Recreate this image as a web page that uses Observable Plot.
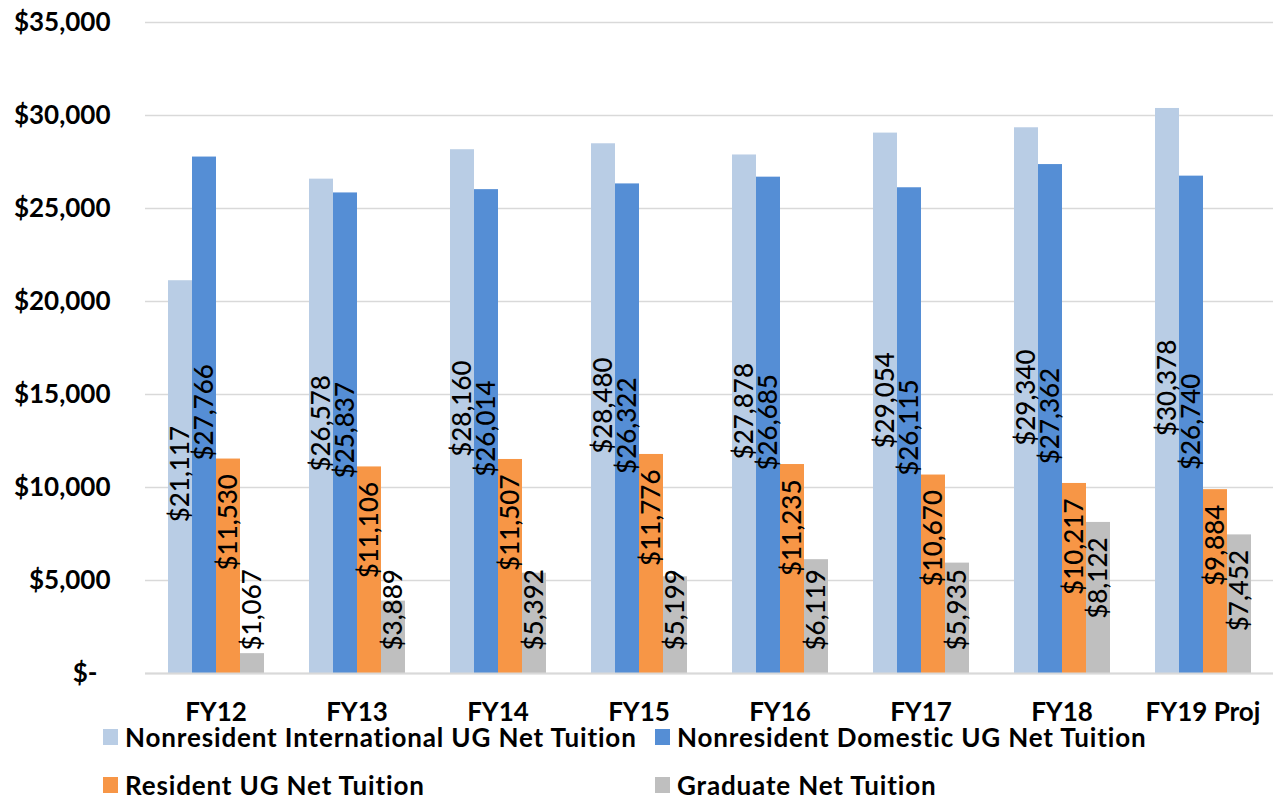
<!DOCTYPE html>
<html>
<head>
<meta charset="utf-8">
<script src="https://cdn.jsdelivr.net/npm/d3@7"></script>
<script src="https://cdn.jsdelivr.net/npm/@observablehq/plot@0.6"></script>
<style>
  body { margin: 0; background: #fff; }
  #chart { position: relative; width: 1273px; height: 801px; font-family: Lato, "Open Sans", sans-serif; }
  #chart svg { display: block; }
  .legend-item { position: absolute; display: flex; align-items: center; height: 20px;
    font: bold 26px/20px Lato, "Open Sans", sans-serif; letter-spacing: 0.85px; color: #000; white-space: nowrap; }
  .swatch { width: 15px; height: 16px; margin-right: 7px; flex: none; }
</style>
</head>
<body>
<div id="chart"></div>
<script>
// Fiscal years on the horizontal axis
const years = ["FY12", "FY13", "FY14", "FY15", "FY16", "FY17", "FY18", "FY19 Proj"];

// Series names, in legend / bar order
const seriesNames = [
  "Nonresident International UG Net Tuition",
  "Nonresident Domestic UG Net Tuition",
  "Resident UG Net Tuition",
  "Graduate Net Tuition"
];

// Net tuition per student ($) for each series, by year
const intlUG = [21117, 26578, 28160, 28480, 27878, 29054, 29340, 30378];
const domUG  = [27766, 25837, 26014, 26322, 26685, 26115, 27362, 26740];
const resUG  = [11530, 11106, 11507, 11776, 11235, 10670, 10217, 9884];
const grad   = [1067, 3889, 5392, 5199, 6119, 5935, 8122, 7452];

// Y-axis ticks
const yTicks = [0, 5000, 10000, 15000, 20000, 25000, 30000, 35000];

const colors = ["#B9CDE5", "#558ED5", "#F79646", "#BFBFBF"];

const seriesValues = [intlUG, domUG, resUG, grad];
const rows = [];
years.forEach((year, i) => {
  seriesNames.forEach((s, j) => {
    rows.push({year, series: s, idx: j, value: seriesValues[j][i]});
  });
});

const fmtMoney = d3.format("$,.0f");
const tickFmt = d => d === 0 ? "$-\u2002" : fmtMoney(d);

// Layout
const W = 1273, H = 727, mTop = 22, mBottom = 54, mLeft = 145, mRight = 0;
const yMax = 35000;
const plotH = H - mTop - mBottom;
const labelFont = "500 26px Lato, 'Open Sans', sans-serif";

// Text length of a value label, used to keep labels of short bars above the axis
const ctx = document.createElement("canvas").getContext("2d");
ctx.font = labelFont;
const textLen = s => ctx.measureText(s).width;
const barPx = v => v / yMax * plotH;

rows.forEach(r => {
  r.label = fmtMoney(r.value);
  r.fitsInside = barPx(r.value) >= textLen(r.label) + 38;
});

const blueRows = rows.filter(r => r.idx < 2);
const endRows = rows.filter(r => r.idx >= 2 && r.fitsInside);
const baseRows = rows.filter(r => r.idx >= 2 && !r.fitsInside);

const labelOpts = {
  fx: "year", x: "series", text: "label", rotate: -90,
  fontSize: 26, fontWeight: 500, fill: "#000"
};

// Year panels abut each other so gridlines run continuously; the gap
// between bar groups comes from the outer padding of the series scale.
const chart = Plot.plot({
  width: W, height: H,
  marginTop: mTop, marginBottom: mBottom, marginLeft: mLeft, marginRight: mRight,
  style: {fontFamily: "Lato, 'Open Sans', sans-serif", fontSize: "26px", fontWeight: "bold", background: "#fff", color: "#000"},
  fx: {domain: years, paddingInner: 0, paddingOuter: 0, label: null},
  x: {domain: seriesNames, paddingInner: 0, paddingOuter: 0.855, axis: null},
  y: {domain: [0, yMax], label: null},
  color: {domain: seriesNames, range: colors},
  marks: [
    Plot.gridY(yTicks, {stroke: "#D9D9D9", strokeOpacity: 1, strokeWidth: 1.5}),
    Plot.barY(rows, {fx: "year", x: "series", y: "value", fill: "series", inset: 0}),
    Plot.ruleY([0], {stroke: "#D9D9D9", strokeWidth: 2}),
    Plot.text(blueRows, {...labelOpts, y: d => d.value / 2, textAnchor: "middle", dy: -3}),
    Plot.text(endRows, {...labelOpts, y: "value", textAnchor: "end", dy: 15}),
    Plot.text(baseRows, {...labelOpts, y: () => 0, textAnchor: "start", dy: -23}),
    Plot.axisY(yTicks, {tickSize: 0, tickPadding: 35, tickFormat: tickFmt, label: null,
      fontSize: 26, fontWeight: "bold", fill: "#000"}),
    Plot.axisFx({anchor: "bottom", tickSize: 0, tickPadding: 29, label: null,
      fontSize: 26, fontWeight: "bold", fill: "#000"})
  ]
});

const host = document.getElementById("chart");
host.appendChild(chart);

// Legend below the plot, two items per row
const legendPos = [
  {left: 103, top: 727},
  {left: 655, top: 727},
  {left: 103, top: 775},
  {left: 655, top: 775}
];
seriesNames.forEach((name, i) => {
  const item = document.createElement("div");
  item.className = "legend-item";
  item.style.left = legendPos[i].left + "px";
  item.style.top = legendPos[i].top + "px";
  const sw = document.createElement("span");
  sw.className = "swatch";
  sw.style.background = colors[i];
  item.appendChild(sw);
  item.appendChild(document.createTextNode(name));
  host.appendChild(item);
});
</script>
</body>
</html>
